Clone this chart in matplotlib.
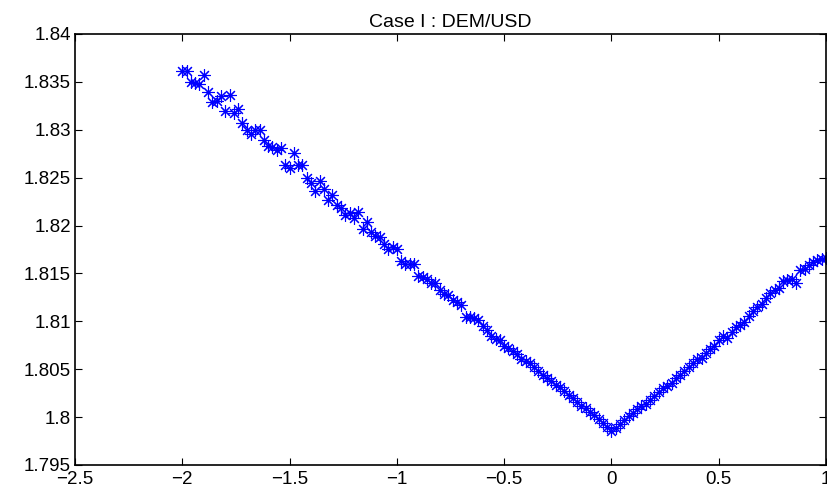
import matplotlib
matplotlib.use('Agg')
import matplotlib.pyplot as plt

plt.rcParams['font.family'] = ['Liberation Sans', 'DejaVu Sans']

# strike price grid (left arm, valley, right arm)
x_left = [-2.00, -1.98, -1.96, -1.94, -1.92, -1.90, -1.88, -1.86, -1.84, -1.82,
          -1.80, -1.78, -1.76, -1.74, -1.72, -1.70, -1.68, -1.66, -1.64, -1.62,
          -1.60, -1.58, -1.56, -1.54, -1.52, -1.50, -1.48, -1.46, -1.44, -1.42,
          -1.40, -1.38, -1.36, -1.34, -1.32, -1.30, -1.28, -1.26, -1.24, -1.22,
          -1.20, -1.18, -1.16, -1.14, -1.12, -1.10, -1.08, -1.06, -1.04, -1.02,
          -1.00, -0.98, -0.96, -0.94, -0.92, -0.90, -0.88, -0.86, -0.84, -0.82,
          -0.80, -0.78, -0.76, -0.74, -0.72, -0.70, -0.68, -0.66, -0.64, -0.62,
          -0.60, -0.58, -0.56, -0.54, -0.52, -0.50, -0.48, -0.46, -0.44, -0.42,
          -0.40, -0.38, -0.36, -0.34, -0.32, -0.30, -0.28, -0.26, -0.24, -0.22,
          -0.20, -0.18, -0.16, -0.14, -0.12, -0.10, -0.08, -0.06, -0.04, -0.02]
x_right = [0.00, 0.02, 0.04, 0.06, 0.08, 0.10, 0.12, 0.14, 0.16, 0.18,
           0.20, 0.22, 0.24, 0.26, 0.28, 0.30, 0.32, 0.34, 0.36, 0.38,
           0.40, 0.42, 0.44, 0.46, 0.48, 0.50, 0.52, 0.54, 0.56, 0.58,
           0.60, 0.62, 0.64, 0.66, 0.68, 0.70, 0.72, 0.74, 0.76, 0.78,
           0.80, 0.82, 0.84, 0.86, 0.88, 0.90, 0.92, 0.94, 0.96, 0.98, 1.00]

y_left = [1.8361, 1.8361, 1.8350, 1.8349, 1.8348, 1.8357, 1.8339, 1.8329, 1.8330, 1.8335,
          1.8320, 1.8336, 1.8318, 1.8322, 1.8307, 1.8300, 1.8296, 1.8300, 1.8300, 1.8289,
          1.8283, 1.8282, 1.8279, 1.8281, 1.8263, 1.8260, 1.8276, 1.8263, 1.8263, 1.8250,
          1.8244, 1.8236, 1.8247, 1.8238, 1.8227, 1.8232, 1.8221, 1.8218, 1.8211, 1.8213,
          1.8208, 1.8214, 1.8196, 1.8204, 1.8193, 1.8189, 1.8188, 1.8181, 1.8176, 1.8178,
          1.8175, 1.8163, 1.8160, 1.8160, 1.8160, 1.8147, 1.8146, 1.8144, 1.8140, 1.8140,
          1.8133, 1.8129, 1.8127, 1.8122, 1.8120, 1.8117, 1.8104, 1.8104, 1.8103, 1.8101,
          1.8095, 1.8091, 1.8085, 1.8082, 1.8081, 1.8074, 1.8072, 1.8069, 1.8066, 1.8061,
          1.8059, 1.8056, 1.8052, 1.8048, 1.8044, 1.8041, 1.8038, 1.8034, 1.8031, 1.8027,
          1.8023, 1.8020, 1.8016, 1.8012, 1.8009, 1.8005, 1.8002, 1.7998, 1.7994, 1.7990]
y_right = [1.7986, 1.7989, 1.7993, 1.7997, 1.8001, 1.8004, 1.8008, 1.8012, 1.8014, 1.8018,
           1.8022, 1.8026, 1.8030, 1.8033, 1.8036, 1.8041, 1.8044, 1.8048, 1.8052, 1.8056,
           1.8061, 1.8062, 1.8067, 1.8071, 1.8074, 1.8080, 1.8085, 1.8083, 1.8089, 1.8094,
           1.8096, 1.8099, 1.8106, 1.8111, 1.8115, 1.8118, 1.8124, 1.8130, 1.8133, 1.8135,
           1.8142, 1.8143, 1.8144, 1.8140, 1.8154, 1.8155, 1.8159, 1.8162, 1.8164, 1.8165,
           1.8166]

xticks = [-2.5, -2, -1.5, -1, -0.5, 0, 0.5, 1]
xlabels = ['\u22122.5', '\u22122', '\u22121.5', '\u22121', '\u22120.5', '0', '0.5', '1']
yticks = [1.795, 1.8, 1.805, 1.81, 1.815, 1.82, 1.825, 1.83, 1.835, 1.84]
ylabels = ['1.795', '1.8', '1.805', '1.81', '1.815', '1.82', '1.825', '1.83', '1.835', '1.84']

fig = plt.figure(figsize=(8.27, 4.96), dpi=100)
ax = fig.add_axes([0.0907, 0.0625, 0.9081, 0.869])

ax.plot(x_left + x_right, y_left + y_right, linestyle='none',
        marker=(8, 2, 0), markersize=9, markeredgewidth=0.8,
        color='#0000ff', clip_on=False)

ax.set_xlim(-2.5, 1)
ax.set_ylim(1.795, 1.84)
ax.set_xticks(xticks)
ax.set_xticklabels(xlabels)
ax.set_yticks(yticks)
ax.set_yticklabels(ylabels)
ax.tick_params(direction='in', length=5, width=0.8, top=True, right=True,
               labelsize=13.5, pad=3)
ax.tick_params(axis='x', pad=4)
for s in ax.spines.values():
    s.set_linewidth(1.2)

ax.set_title('Case I : DEM/USD', fontsize=14, pad=5)

fig.savefig('out.png', dpi=100)
